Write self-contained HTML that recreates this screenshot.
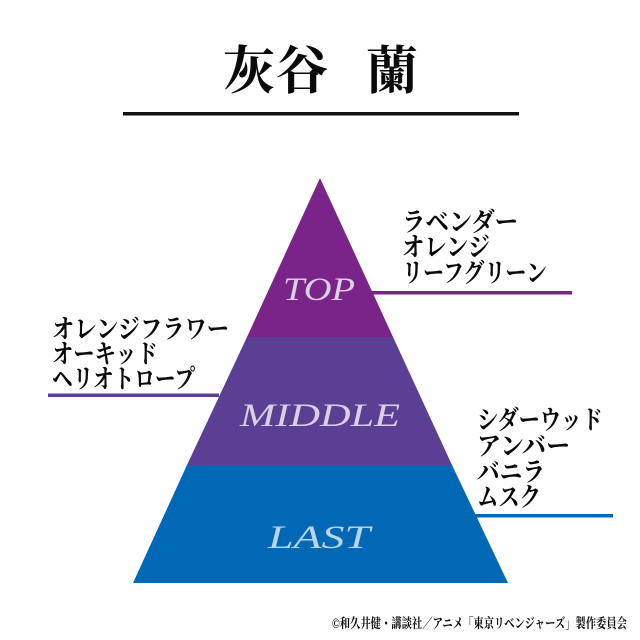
<!DOCTYPE html>
<html><head><meta charset="utf-8"><style>
html,body{margin:0;padding:0;background:#fff}
svg{display:block}
.j{font-family:"Liberation Serif","Noto Serif CJK SC","Noto Serif CJK JP",serif;font-weight:700;fill:#0a0a0a}
.e{font-family:"Liberation Serif",serif;font-style:italic;fill:#d8d0e4}
</style></head><body>
<svg width="640" height="640" viewBox="0 0 640 640" xmlns="http://www.w3.org/2000/svg">
<rect width="640" height="640" fill="#fff"/>
<text class="j" x="223" y="89" font-size="52">灰</text>
<text class="j" x="276" y="89" font-size="52">谷</text>
<text class="j" x="366" y="89" font-size="52">蘭</text>
<rect x="123" y="112" width="396" height="3.5" fill="#111"/>
<polygon points="320,178 393,337 247,337" fill="#7a2389"/>
<polygon points="247,337 393,337 452,465 187,465" fill="#5a3f95"/>
<polygon points="187,465 452,465 508,583 133,583" fill="#0068b5"/>
<rect x="372" y="291" width="200" height="3.5" fill="#7a2389"/>
<rect x="48" y="393.5" width="171" height="3.5" fill="#5a3f95"/>
<rect x="473" y="514" width="140" height="3.5" fill="#0068b5"/>
<text class="e" x="283" y="300" font-size="33" textLength="72" lengthAdjust="spacingAndGlyphs">TOP</text>
<text class="e" x="240" y="426" font-size="33" textLength="160" lengthAdjust="spacingAndGlyphs">MIDDLE</text>
<text class="e" x="268" y="548" font-size="33" textLength="102" lengthAdjust="spacingAndGlyphs" style="fill:#bcd4ea">LAST</text>
<g font-size="26">
<text class="j" x="402" y="231" textLength="116" lengthAdjust="spacingAndGlyphs">ラベンダー</text>
<text class="j" x="402" y="256" textLength="88" lengthAdjust="spacingAndGlyphs">オレンジ</text>
<text class="j" x="402" y="282" textLength="145" lengthAdjust="spacingAndGlyphs">リーフグリーン</text>
<text class="j" x="52" y="338" textLength="177" lengthAdjust="spacingAndGlyphs">オレンジフラワー</text>
<text class="j" x="52" y="363" textLength="106" lengthAdjust="spacingAndGlyphs">オーキッド</text>
<text class="j" x="52" y="388" textLength="143" lengthAdjust="spacingAndGlyphs">ヘリオトロープ</text>
<text class="j" x="477" y="429" textLength="126" lengthAdjust="spacingAndGlyphs">シダーウッド</text>
<text class="j" x="477" y="455" textLength="93" lengthAdjust="spacingAndGlyphs">アンバー</text>
<text class="j" x="477" y="481" textLength="68" lengthAdjust="spacingAndGlyphs">バニラ</text>
<text class="j" x="477" y="506" textLength="64" lengthAdjust="spacingAndGlyphs">ムスク</text>
</g>
<text class="j" x="332" y="628" font-size="13.5" textLength="295" lengthAdjust="spacingAndGlyphs">©和久井健・講談社／アニメ「東京リベンジャーズ」製作委員会</text>
</svg>
</body></html>
